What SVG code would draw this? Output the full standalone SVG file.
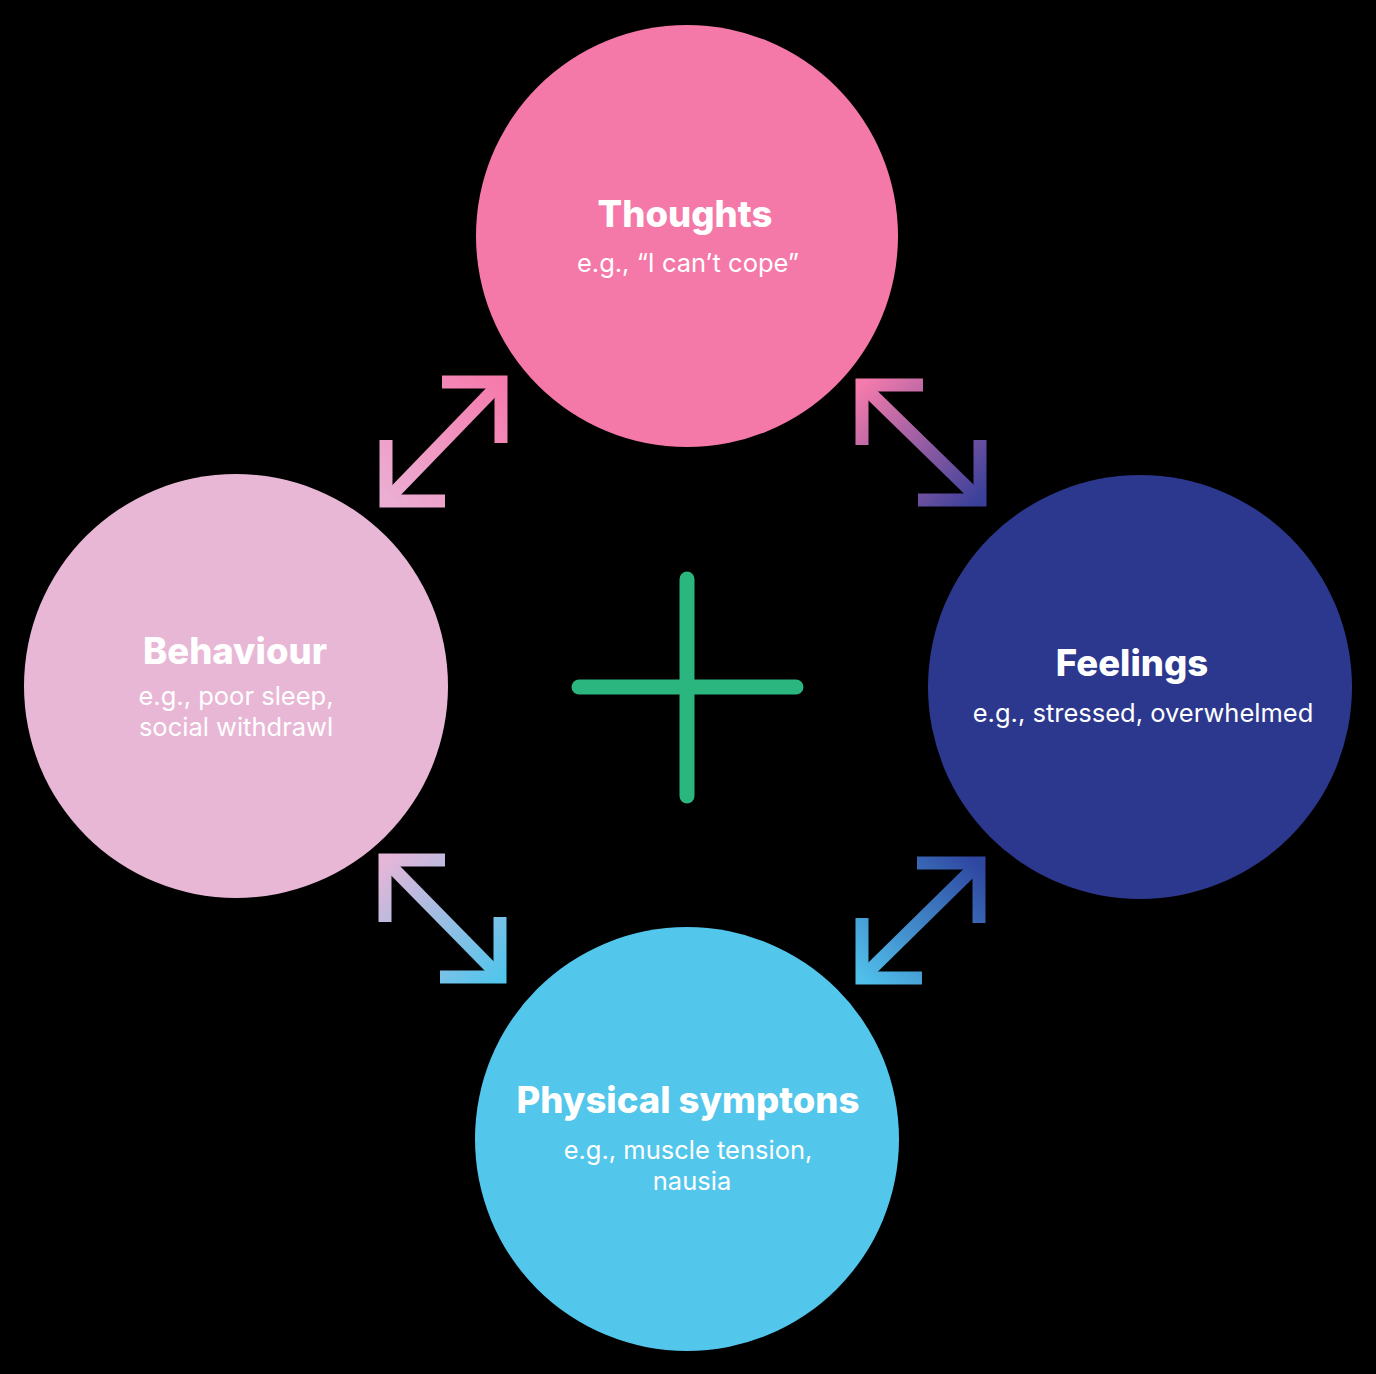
<svg xmlns="http://www.w3.org/2000/svg" width="1376" height="1374" viewBox="0 0 1376 1374">
<style>
.title{font-family:Inter,"Open Sans","Liberation Sans",sans-serif;font-weight:800;font-size:36.5px;fill:#fff;text-anchor:middle}
.sub{font-family:Inter,"Open Sans","Liberation Sans",sans-serif;font-weight:400;font-size:25.5px;fill:#fff;text-anchor:middle}
.arr{fill:none;stroke-width:13;stroke-linecap:butt;stroke-linejoin:miter}
</style>
<defs>
<linearGradient id="gTL" gradientUnits="userSpaceOnUse" x1="386" y1="501" x2="501" y2="382"><stop offset="0" stop-color="#EBAFD4"/><stop offset="1" stop-color="#F57BAC"/></linearGradient>
<linearGradient id="gTR" gradientUnits="userSpaceOnUse" x1="862" y1="385" x2="980" y2="500"><stop offset="0" stop-color="#F57BAC"/><stop offset="1" stop-color="#39409A"/></linearGradient>
<linearGradient id="gBL" gradientUnits="userSpaceOnUse" x1="385" y1="860" x2="500" y2="977"><stop offset="0" stop-color="#E6B6D8"/><stop offset="1" stop-color="#52C5EC"/></linearGradient>
<linearGradient id="gBR" gradientUnits="userSpaceOnUse" x1="862" y1="978" x2="979" y2="863"><stop offset="0" stop-color="#50BFEA"/><stop offset="1" stop-color="#2F46A0"/></linearGradient>
</defs>
<rect width="1376" height="1374" fill="#000"/>
<g id="connectors">
<g id="arrow-thoughts-behaviour" stroke="url(#gTL)" class="arr">
<path d="M386,501 L501,382"/>
<path d="M442,382 L501,382 L501,443"/>
<path d="M386,440 L386,501 L445,501"/>
</g>
<g id="arrow-thoughts-feelings" stroke="url(#gTR)" class="arr">
<path d="M862,385 L980,500"/>
<path d="M923,385 L862,385 L862,445"/>
<path d="M980,440 L980,500 L918,500"/>
</g>
<g id="arrow-behaviour-physical" stroke="url(#gBL)" class="arr">
<path d="M385,860 L500,977"/>
<path d="M445,860 L385,860 L385,922"/>
<path d="M500,917 L500,977 L440,977"/>
</g>
<g id="arrow-feelings-physical" stroke="url(#gBR)" class="arr">
<path d="M862,978 L979,863"/>
<path d="M917,863 L979,863 L979,923"/>
<path d="M862,918 L862,978 L922,978"/>
</g>
</g>
<g id="center-plus" stroke="#2BB57F" stroke-width="15" stroke-linecap="round">
<line x1="579" y1="687" x2="796" y2="687"/>
<line x1="687" y1="579" x2="687" y2="796"/>
</g>
<g id="thoughts">
<circle cx="687" cy="236" r="211" fill="#F579A8"/>
<text class="title" x="685" y="227">Thoughts</text>
<text class="sub" x="688" y="272">e.g., “I can’t cope”</text>
</g>
<g id="behaviour">
<circle cx="236" cy="686" r="212" fill="#E8B7D5"/>
<text class="title" x="235" y="664">Behaviour</text>
<text class="sub" x="236" y="705">e.g., poor sleep,</text>
<text class="sub" x="236" y="736">social withdrawl</text>
</g>
<g id="feelings">
<circle cx="1140" cy="687" r="212" fill="#2C388D"/>
<text class="title" x="1132" y="676">Feelings</text>
<text class="sub" x="1143" y="722">e.g., stressed, overwhelmed</text>
</g>
<g id="physical">
<circle cx="687" cy="1139" r="212" fill="#53C6EC"/>
<text class="title" x="688" y="1113">Physical symptons</text>
<text class="sub" x="688" y="1159">e.g., muscle tension,</text>
<text class="sub" x="692" y="1190">nausia</text>
</g>
</svg>
